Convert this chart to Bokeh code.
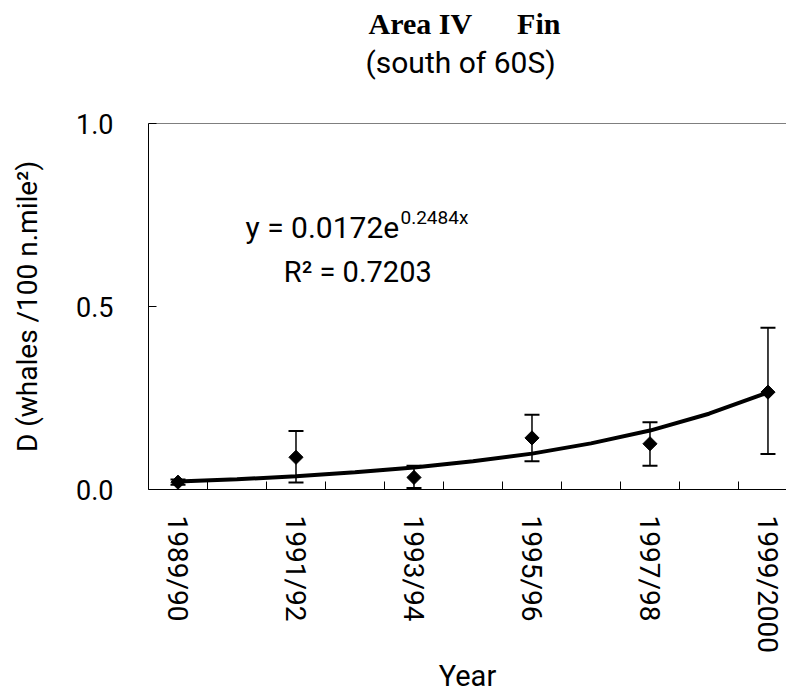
import math
from bokeh.plotting import figure
from bokeh.models import (ColumnDataSource, Whisker, TeeHead, FixedTicker, Label,
                          Title, Span, Range1d)
from bokeh.embed import file_html
from bokeh.resources import INLINE

# ---------------- data ----------------
seasons = ["1989/90", "1990/91", "1991/92", "1992/93", "1993/94", "1994/95",
           "1995/96", "1996/97", "1997/98", "1998/99", "1999/2000"]
survey_seasons = ["1989/90", "1991/92", "1993/94", "1995/96", "1997/98", "1999/2000"]
density = [0.020, 0.088, 0.033, 0.141, 0.125, 0.266]
ci_lower = [0.013, 0.019, 0.004, 0.077, 0.065, 0.097]
ci_upper = [0.027, 0.160, 0.065, 0.204, 0.184, 0.442]
# exponential trend line, read at every season
trend = [0.022, 0.028, 0.036, 0.047, 0.060, 0.077, 0.098, 0.126, 0.161, 0.207, 0.265]
y_ticks = [0.0, 0.5, 1.0]
y_tick_labels = ["0.0", "0.5", "1.0"]

title_text = "Area IV" + "\u00a0" * 6 + "Fin"
subtitle_text = "(south of 60S)"
x_title = "Year"
y_title = "D (whales /100 n.mile\u00b2)"
eq_main = "y = 0.0172e"
eq_exp = "0.2484x"
r2_text = "R\u00b2 = 0.7203"

FONT = "Roboto"

x_idx = [seasons.index(s) for s in survey_seasons]
src = ColumnDataSource(dict(x=x_idx, d=density, lo=ci_lower, hi=ci_upper))
trend_src = ColumnDataSource(dict(x=list(range(len(seasons))), t=trend))

p = figure(width=786, height=696, output_backend="svg", toolbar_location=None,
           x_range=Range1d(-0.5, 10.314), y_range=Range1d(0, 1),
           min_border_left=148, min_border_right=0, min_border_top=123,
           min_border_bottom=207, title=None)
p.outline_line_color = None
p.grid.visible = False
p.background_fill_color = "white"
p.border_fill_color = "white"

# trend line
p.line("x", "t", source=trend_src, line_width=4, line_color="black")

# error bars
whisk = Whisker(base="x", upper="hi", lower="lo", source=src, dimension="height",
                line_width=1.5, line_color="black",
                upper_head=TeeHead(size=15, line_width=2, line_color="black"),
                lower_head=TeeHead(size=15, line_width=2, line_color="black"))
p.add_layout(whisk)

# points
p.scatter("x", "d", source=src, marker="square", angle=math.pi / 4, size=10,
          color="black")

# top border
p.add_layout(Span(location=1.0, dimension="width", line_color="black", line_width=1))

# x axis
xa = p.xaxis[0]
xa.ticker = FixedTicker(ticks=x_idx,
                        minor_ticks=[i + 0.5 for i in range(len(seasons) - 1)])
xa.major_label_overrides = {i: s for i, s in zip(x_idx, survey_seasons)}
xa.major_tick_in = 0
xa.major_tick_out = 0
xa.minor_tick_in = 8
xa.minor_tick_out = 0
xa.major_label_orientation = -math.pi / 2
xa.major_label_standoff = 26
xa.major_label_text_font = FONT
xa.major_label_text_font_size = "28px"
xa.major_label_text_color = "black"
xa.axis_line_color = "black"
xa.major_tick_line_color = "black"
xa.minor_tick_line_color = "black"
xa.axis_label = x_title
xa.axis_label_text_font = FONT
xa.axis_label_text_font_size = "29px"
xa.axis_label_text_font_style = "normal"
xa.axis_label_text_color = "black"
xa.axis_label_standoff = 3

# y axis
ya = p.yaxis[0]
ya.ticker = FixedTicker(ticks=y_ticks, minor_ticks=[])
ya.major_label_overrides = {t: l for t, l in zip(y_ticks, y_tick_labels)}
ya.major_tick_in = 8
ya.major_tick_out = 0
ya.minor_tick_in = 0
ya.minor_tick_out = 0
ya.major_label_standoff = 35
ya.major_label_text_font = FONT
ya.major_label_text_font_size = "27px"
ya.major_label_text_color = "black"
ya.axis_line_color = "black"
ya.major_tick_line_color = "black"
ya.axis_label = y_title
ya.axis_label_text_font = FONT
ya.axis_label_text_font_size = "28px"
ya.axis_label_text_font_style = "normal"
ya.axis_label_text_color = "black"
ya.axis_label_standoff = 29

# titles, stacked upward from the frame: spacer, subtitle, main title
spacer = Title(text="\u00a0", text_font_size="1px", standoff=42)
sub = Title(text=subtitle_text, align="left", offset=217, text_font=FONT,
            text_font_size="30px", text_font_style="normal", text_color="black",
            standoff=-3)
main = Title(text=title_text, align="left", offset=220, text_font="Liberation Serif",
             text_font_size="30px", text_font_style="bold", text_color="black",
             standoff=8.6)
p.add_layout(spacer, "above")
p.add_layout(sub, "above")
p.add_layout(main, "above")

# equation labels
p.add_layout(Label(x=1.144, y=0.7167, text=eq_main, text_font=FONT,
                   text_font_size="30px", text_baseline="alphabetic",
                   text_align="left", text_color="black"))
p.add_layout(Label(x=3.771, y=0.744, text=eq_exp, text_font=FONT,
                   text_font_size="19px", text_baseline="alphabetic",
                   text_align="left", text_color="black"))
p.add_layout(Label(x=1.793, y=0.5956, text=r2_text, text_font=FONT,
                   text_font_size="29px", text_baseline="alphabetic",
                   text_align="left", text_color="black"))

open("out.html", "w").write(file_html(p, INLINE))
